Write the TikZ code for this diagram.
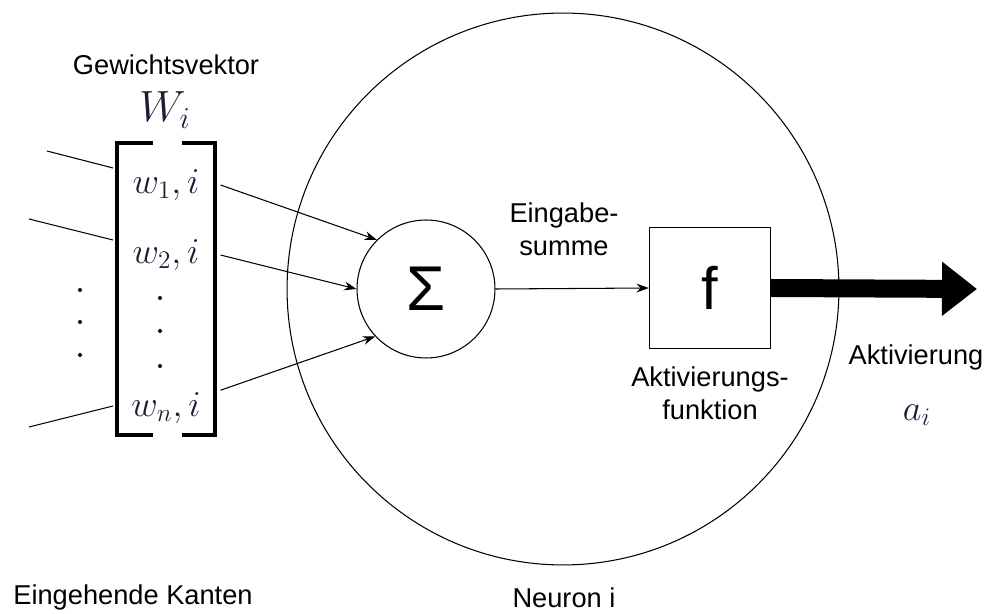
\documentclass[tikz,border=0pt]{standalone}
\usepackage{fontspec}
\setmainfont{Liberation Sans}
\usetikzlibrary{positioning,arrows.meta}
\definecolor{mathcol}{RGB}{28,28,55}

\begin{document}
\begin{tikzpicture}[x=0.02cm,y=-0.02cm,line width=0.6pt,
  lbl/.style={font=\fontsize{15.5}{19}\selectfont,align=center,inner sep=0pt},
  mlbl/.style={font=\fontsize{22}{26}\selectfont,text=mathcol,inner sep=1pt},
  wentry/.style={mlbl,minimum width=2.16cm}, >={Stealth[length=7pt,width=5pt]}]
  \useasboundingbox (0,0) rectangle (987,614);
  \node[circle,draw,minimum size=11.04cm] (N) at (563,289) {};
  \node[circle,draw,minimum size=2.76cm,font=\fontsize{36}{40}\selectfont] (S) at (426,289) {Σ};
  \node[draw,line width=0.8pt,minimum size=2.42cm,font=\fontsize{34}{38}\selectfont] (F) at (710,288) {f};
  \coordinate (out) at (977,289);
  \node[lbl] (gv) at (166,65) {Gewichtsvektor};
  \node[mlbl,font=\fontsize{24}{28}\selectfont] (W) at (165,110) {$W_i$};
  \node[wentry] (w1) at (166,185) {$w_1,i$};
  \node[wentry] (w2) at (166,255) {$w_2,i$};
  \node[wentry] (wn) at (166,408) {$w_n,i$};
  \node[lbl] (es) at (564,229) {Eingabe-\\summe};
  \node[lbl] (af) at (710,393) {Aktivierungs-\\funktion};
  \node[lbl] (akt) at (916,357) {Aktivierung};
  \node[mlbl] (ai) at (917,415) {$a_i$};
  \node[lbl] (ek) at (133,597) {Eingehende Kanten};
  \node[lbl] (ni) at (564,598) {Neuron i};
  \draw[line width=1.8pt] (153,143) -| (117,435) -- (153,435);
  \draw[line width=1.8pt] (182,143) -| (215,435) -- (182,435);
  \foreach \y in {298,331,366} \fill (160,\y) circle (2);
  \foreach \y in {290,322,355} \fill (80,\y) circle (2);
  \coordinate (e1a) at (47,151); \coordinate (e1b) at (113,168);
  \coordinate (e2a) at (29,219); \coordinate (e2b) at (113,240);
  \coordinate (e3a) at (29,427); \coordinate (e3b) at (113,406);
  \draw (e1a) -- (e1b); \draw (e2a) -- (e2b); \draw (e3a) -- (e3b);
  \draw[->] (w1.east) -- (S.135);
  \draw[->] (w2.east) -- (S.180);
  \draw[->] (wn.north east) -- (S.223);
  \draw[->] (S.east) -- (F.west);
  \draw[line width=0.36cm,-{Triangle[length=0.7cm,width=1.04cm]}] (F.east) -- (out);
\end{tikzpicture}
\end{document}
